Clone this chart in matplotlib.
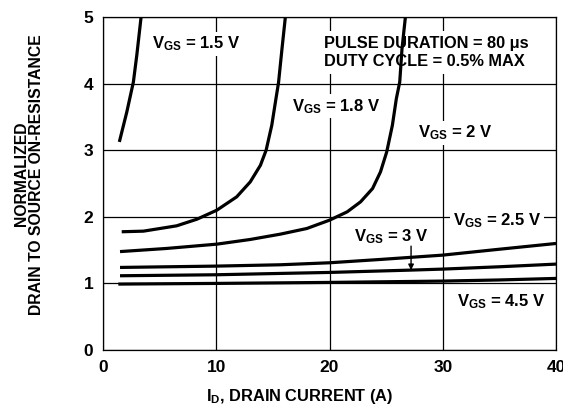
import matplotlib
matplotlib.use("Agg")
import matplotlib.pyplot as plt

plt.rcParams['font.family'] = ['Liberation Sans', 'DejaVu Sans']
plt.rcParams['font.weight'] = 'bold'
plt.rcParams['mathtext.fontset'] = 'custom'
plt.rcParams['mathtext.rm'] = 'Liberation Sans:bold'
plt.rcParams['mathtext.it'] = 'Liberation Sans:bold'
plt.rcParams['mathtext.bf'] = 'Liberation Sans:bold'
plt.rcParams['mathtext.default'] = 'rm'

# drain current (A) and normalized on-resistance
i_15 = [1.44, 2.1, 2.68, 2.98, 3.36]
r_15 = [3.125, 3.575, 4.025, 4.425, 5.0]

i_18 = [1.65, 3.57, 6.5, 8.3, 10.05, 11.8, 13.0, 13.9, 14.4, 14.9, 15.27, 15.5, 15.8, 16.1]
r_18 = [1.776, 1.785, 1.865, 1.965, 2.1, 2.3, 2.525, 2.775, 3.0, 3.375, 3.775, 4.02, 4.52, 5.0]

i_20 = [1.5, 5.6, 10.06, 13.0, 15.66, 18.0, 20.0, 21.56, 22.74, 23.8, 24.5, 25.05,
        25.55, 25.9, 26.2, 26.4, 26.7]
r_20 = [1.478, 1.525, 1.59, 1.66, 1.74, 1.825, 1.95, 2.075, 2.225, 2.425, 2.675, 2.975,
        3.375, 3.775, 4.025, 4.525, 5.0]

i_25 = [1.5, 10.0, 15.66, 20.0, 24.5, 30.0, 34.8, 40.0]
r_25 = [1.24, 1.26, 1.28, 1.31, 1.36, 1.425, 1.51, 1.60]

i_30 = [1.5, 10.0, 15.66, 20.0, 27.2, 30.0, 35.0, 40.0]
r_30 = [1.115, 1.13, 1.15, 1.165, 1.2, 1.215, 1.25, 1.29]

i_45 = [1.35, 10.0, 20.0, 30.0, 35.0, 40.0]
r_45 = [0.99, 1.0, 1.015, 1.035, 1.052, 1.075]

x_ticks = [0, 10, 20, 30, 40]
y_ticks = [0, 1, 2, 3, 4, 5]

fig = plt.figure(figsize=(5.63, 4.12), dpi=100)
ax = fig.add_axes([0.183, 0.1505, 0.8046, 0.808])

for xs, ys in [(i_15, r_15), (i_18, r_18), (i_20, r_20),
               (i_25, r_25), (i_30, r_30), (i_45, r_45)]:
    ax.plot(xs, ys, color='black', lw=2.3, solid_capstyle='butt',
            solid_joinstyle='round', zorder=4)

ax.set_xlim(0, 40)
ax.set_ylim(0, 5)
ax.set_xticks(x_ticks)
ax.set_yticks(y_ticks)
ax.tick_params(length=0, labelsize=12.5, pad=7)
for lbl in ax.get_xticklabels() + ax.get_yticklabels():
    lbl.set_fontweight('bold')
ax.grid(True, color='black', lw=0.9, zorder=1)
ax.set_axisbelow(True)
for s in ax.spines.values():
    s.set_linewidth(0.9)

ax.set_xlabel('I$_{D}$, DRAIN CURRENT (A)', fontsize=11.8, fontweight='bold')
ax.xaxis.set_label_coords(0.435, -0.11)
ax.set_ylabel('NORMALIZED\nDRAIN TO SOURCE ON-RESISTANCE', fontsize=11.3,
              fontweight='bold', linespacing=1.05)
ax.yaxis.set_label_coords(-0.13, 0.528)

box = dict(facecolor='white', edgecolor='none', pad=2)
kw = dict(fontsize=12, fontweight='bold', va='center', ha='left', bbox=box, zorder=3)
ax.text(4.3, 4.6, 'V$_{GS}$ = 1.5 V', **kw)
ax.text(16.7, 3.66, 'V$_{GS}$ = 1.8 V', **kw)
ax.text(27.8, 3.26, 'V$_{GS}$ = 2 V', **kw)
ax.text(30.9, 1.95, 'V$_{GS}$ = 2.5 V', **kw)
ax.text(22.2, 1.70, 'V$_{GS}$ = 3 V', **kw)
ax.text(31.3, 0.72, 'V$_{GS}$ = 4.5 V', **kw)
ax.text(19.5, 4.47, 'PULSE DURATION = 80 \u03bcs\nDUTY CYCLE = 0.5% MAX',
        fontsize=11.8, fontweight='bold', va='center', ha='left',
        linespacing=1.2, bbox=dict(facecolor='white', edgecolor='none', pad=4), zorder=3)

ax.annotate('', xy=(27.2, 1.2), xytext=(27.2, 1.56),
            arrowprops=dict(arrowstyle='-|>', color='black', lw=1.0,
                            mutation_scale=8, shrinkA=0, shrinkB=0), zorder=5)

fig.savefig('out.png', dpi=100)
